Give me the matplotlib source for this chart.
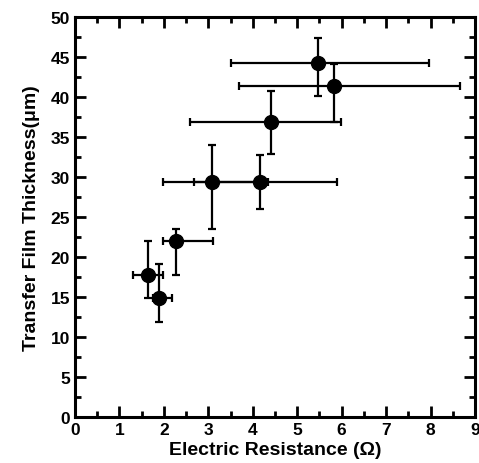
import matplotlib.pyplot as plt
import numpy as np
from matplotlib.ticker import MultipleLocator

plt.rcParams['font.family'] = ['Liberation Sans', 'DejaVu Sans']

# resistance (ohm) and transfer film thickness (um)
res = np.array([1.65, 1.88, 2.28, 3.08, 4.17, 4.40, 5.47, 5.83])
thick = np.array([17.8, 14.9, 22.0, 29.4, 29.4, 36.9, 44.2, 41.4])

res_lo = np.array([1.30, 1.75, 1.99, 1.97, 2.68, 2.59, 3.50, 3.68])
res_hi = np.array([1.99, 2.19, 3.10, 4.35, 5.90, 5.98, 7.97, 8.66])
thick_lo = np.array([14.9, 11.9, 17.75, 23.5, 26.0, 32.9, 40.1, 36.9])
thick_hi = np.array([22.0, 19.1, 23.5, 34.0, 32.75, 40.75, 47.4, 44.1])

xerr = [res - res_lo, res_hi - res]
yerr = [thick - thick_lo, thick_hi - thick]

fig = plt.figure(figsize=(4.79, 4.64), dpi=100)
ax = fig.add_axes([75 / 479, 46 / 464, 400 / 479, 400 / 464])

ax.errorbar(res, thick, xerr=xerr, yerr=yerr, fmt='o', color='black',
            markersize=10, elinewidth=1.6, capsize=3, capthick=1.6)

ax.set_xlim(0, 9)
ax.set_ylim(0, 50)
ax.xaxis.set_major_locator(MultipleLocator(1))
ax.xaxis.set_minor_locator(MultipleLocator(0.5))
ax.yaxis.set_major_locator(MultipleLocator(5))
ax.yaxis.set_minor_locator(MultipleLocator(2.5))
ax.tick_params(which='both', direction='in', top=True, right=True, width=2)
ax.tick_params(which='major', length=8, labelsize=12.5)
ax.tick_params(which='minor', length=4)
for lbl in ax.get_xticklabels() + ax.get_yticklabels():
    lbl.set_fontweight('bold')
for s in ax.spines.values():
    s.set_linewidth(2.2)

ax.set_xlabel('Electric Resistance (\u03a9)', fontsize=14, fontweight='bold', labelpad=3)
ax.set_ylabel('Transfer Film Thickness(\u03bcm)', fontsize=14, fontweight='bold', labelpad=8)

fig.savefig('out.png', dpi=100)
